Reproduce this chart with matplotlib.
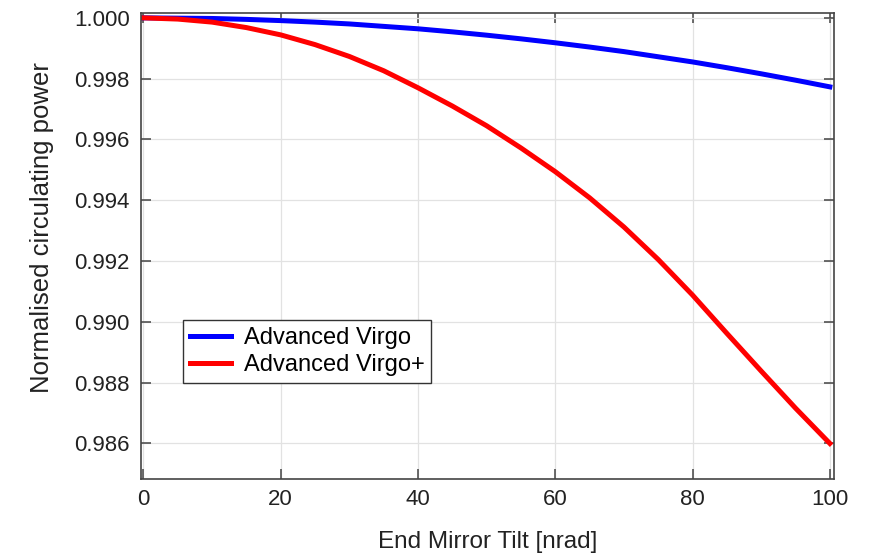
import matplotlib.pyplot as plt

# tilt values [nrad] and normalised power
tilt = [0, 5, 10, 15, 20, 25, 30, 35, 40, 45, 50,
        55, 60, 65, 70, 75, 80, 85, 90, 95, 100]
adv_virgo = [1.00000, 0.99999, 0.99998, 0.99995, 0.99991, 0.99986, 0.99980,
             0.99972, 0.99964, 0.99954, 0.99943, 0.99931, 0.99918, 0.99904,
             0.99889, 0.99872, 0.99855, 0.99836, 0.99816, 0.99795, 0.99773]
adv_virgo_plus = [1.00000, 0.99996, 0.99986, 0.99968, 0.99944, 0.99912,
                  0.99873, 0.99826, 0.99770, 0.99710, 0.99645, 0.99572,
                  0.99494, 0.99408, 0.99312, 0.99205, 0.99088, 0.98962,
                  0.98838, 0.98716, 0.98600]

xticks = [0, 20, 40, 60, 80, 100]
yticks = [0.986, 0.988, 0.990, 0.992, 0.994, 0.996, 0.998, 1.000]

plt.rcParams['font.family'] = ['Liberation Sans', 'DejaVu Sans']
plt.rcParams['font.size'] = 16

fig = plt.figure(figsize=(8.69, 5.53), dpi=100)
ax = fig.add_axes([0.1623, 0.1338, 0.7974, 0.8427])

ax.plot(tilt, adv_virgo, color='#0000ff', lw=3.6, label='Advanced Virgo')
ax.plot(tilt, adv_virgo_plus, color='#ff0000', lw=3.6, label='Advanced Virgo+')

ax.set_xlim(-0.35, 100.6)
ax.set_ylim(0.98483, 1.00016)
ax.set_xticks(xticks)
ax.set_yticks(yticks)
ax.set_yticklabels(['%.3f' % v for v in yticks])

ax.grid(True, color='#e2e2e2', lw=0.9)
ax.set_axisbelow(True)
for s in ax.spines.values():
    s.set_color('#444444')
    s.set_linewidth(1.2)
ax.tick_params(direction='in', length=7, width=1.1, color='#444444',
               top=True, right=True, labelcolor='#222222', labelsize=16)
ax.tick_params(axis='y', pad=8)
ax.tick_params(axis='x', pad=7)

ax.set_xlabel('End Mirror Tilt [nrad]', color='#222222', fontsize=17.5,
              labelpad=15)
ax.set_ylabel('Normalised circulating power', color='#222222', fontsize=18.5)
ax.yaxis.set_label_coords(-0.126, 0.539)

leg = ax.legend(loc='lower left', bbox_to_anchor=(0.061, 0.206),
                borderaxespad=0, fancybox=False, framealpha=1,
                handlelength=1.7, handletextpad=0.55, borderpad=0.3,
                labelspacing=0.2, fontsize=17)
leg.get_frame().set_edgecolor('#333333')
leg.get_frame().set_linewidth(1.0)

fig.savefig('out.png', dpi=100)
